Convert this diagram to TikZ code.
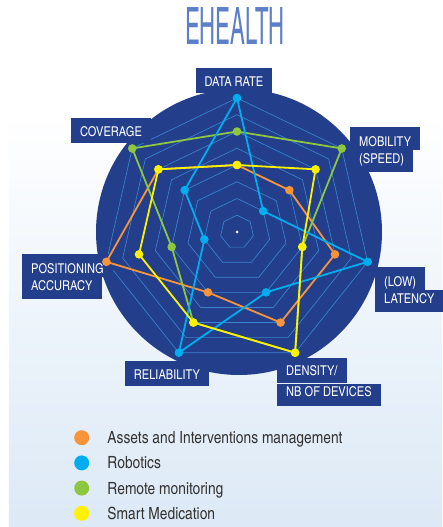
\documentclass[tikz,border=0pt]{standalone}
\usepackage{fontspec}
\setmainfont{texgyreheroscn}[Extension=.otf,UprightFont=*-regular,BoldFont=*-bold]
\usetikzlibrary{positioning}

\definecolor{navy}{RGB}{35,63,139}
\definecolor{gridblue}{RGB}{58,132,208}
\definecolor{orangeA}{RGB}{247,148,58}
\definecolor{blueR}{RGB}{0,174,239}
\definecolor{greenM}{RGB}{141,198,63}
\definecolor{yellowS}{RGB}{255,242,0}
\definecolor{titleblue}{RGB}{92,128,200}
\definecolor{bgblue}{RGB}{220,233,246}
\definecolor{leggray}{RGB}{51,51,51}

\begin{document}
\begin{tikzpicture}[x=1pt,y=1pt,line join=round,
		gridline/.style={draw=gridblue,line width=0.65pt},
		series/.style={line width=1.8pt},
		bullet/.style={circle,inner sep=0pt,minimum size=8.6pt},
		lbl/.style={fill=navy,text=white,font=\fontsize{13.5}{13.5}\selectfont,
			inner xsep=9pt,inner ysep=0pt,text height=18pt,text depth=7pt},
		lblup/.style={lbl,text height=19pt,text depth=3.5pt},
		lbldown/.style={lbl,text height=13pt,text depth=9pt},
		legend/.style={text=leggray,font=\fontsize{16.8}{16.8}\selectfont,
			inner sep=0pt,text height=12pt,text depth=0pt}]
	\useasboundingbox (-237,-295) rectangle (205,232);
	\fill[white] (-237,-295) rectangle (205,232);
	\shade[top color=white,bottom color=bgblue] (-228,-295) rectangle (205,120);
	\fill[navy] (2,0) circle (143);
	\def\ring{16.75}
	% heptagon grid
	\foreach \k in {1,...,8}
	\draw[gridline] (90:\k*\ring) \foreach \a in {1,...,6} {-- ({90-\a*360/7}:\k*\ring)} -- cycle;
	\node[circle,fill=white,inner sep=0pt,minimum size=3pt] (centre) at (0,0) {};
	
	% axis labels
	\node[lbl,anchor=north] (rate) at (-3,164) {DATA RATE};
	\node[lblup,anchor=north west] (mob) at (113,105) {MOBILITY};
	\node[lbldown,below right=0pt and 0pt of mob.south west] (speed) {(SPEED)};
	\node[lblup,anchor=north west] (low) at (138,-35) {(LOW)};
	\node[lbldown,below right=0pt and 0pt of low.south west] (lat) {LATENCY};
	\node[lblup,anchor=north west,text height=17pt,text depth=8pt] (dens) at (40,-126) {DENSITY/};
	\node[lbldown,below right=0pt and 0pt of dens.south west] (nbdev) {NB OF DEVICES};
	\node[lbl,anchor=north] (rel) at (-70,-129) {RELIABILITY};
	\node[lblup,anchor=north west] (pos) at (-215,-22) {POSITIONING};
	\node[lbldown,below right=0pt and 0pt of pos.south west] (acc) {ACCURACY};
	\node[lbl,anchor=north] (cov) at (-126,114) {COVERAGE};
	
	% one polygon per use case
	\foreach \s/\col/\vals in {as/orangeA/{4,4,6,6,4,8,6},rm/greenM/{6,8,4,8,6,4,8},
		ro/blueR/{8,2,8,4,8,2,4},sm/yellowS/{4,6,4,8,6,6,6}}
	{\foreach \v [count=\i] in \vals
		\coordinate (\s\i) at ({90-(\i-1)*360/7}:\v*\ring);
		\draw[series,\col] (\s1) -- (\s2) -- (\s3) -- (\s4) -- (\s5) -- (\s6) -- (\s7) -- cycle;
		\foreach \i in {1,...,7}
		\node[bullet,fill=\col] (\s dot\i) at (\s\i) {};}
	
	% legend
	\foreach \col/\txt [count=\i] in {orangeA/Assets and Interventions management,
		blueR/Robotics,greenM/Remote monitoring,yellowS/Smart Medication}
	{\node[bullet,minimum size=15pt,fill=\col] (key\i) at (-155.3,{-205.7-(\i-1)*25.2}) {};
		\node[legend,right=25.6pt of key\i.center] (leg\i) {\txt};}
	
	\node[text=titleblue,font=\fontsize{51.5}{51.5}\selectfont,xscale=0.524,anchor=base] (title) at (-2,187) {EHEALTH};
\end{tikzpicture}
\end{document}
